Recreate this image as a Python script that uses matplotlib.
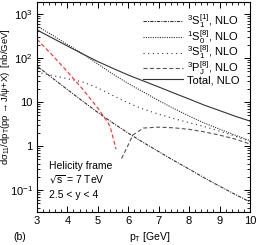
import numpy as np
import matplotlib
matplotlib.use('Agg')
import matplotlib.pyplot as plt
from matplotlib.ticker import FixedLocator, FixedFormatter, MultipleLocator, LogLocator, NullFormatter

plt.rcParams['font.family'] = ['Liberation Sans', 'DejaVu Sans']
plt.rcParams['mathtext.default'] = 'regular'

# values (nb/GeV)
pt = [3, 3.5, 4, 4.5, 5, 5.5, 6, 6.5, 7, 7.5, 8, 8.5, 9, 9.5, 10]
s1_singlet = [66, 35.4, 19.2, 10.5, 5.8, 3.33, 1.97, 1.2, 0.75, 0.47, 0.30, 0.19, 0.123, 0.081, 0.054]
s0_octet = [534, 333, 203, 124, 73, 43, 26.3, 16.9, 10.8, 7.1, 4.8, 3.33, 2.43, 1.78, 1.33]
s1_octet = [48, 40, 34, 28.5, 21, 14, 9.5, 6.9, 5.3, 4.2, 3.4, 2.77, 2.19, 1.69, 1.27]
total = [433, 285, 187, 124, 83, 58, 41, 30, 22, 16, 11.7, 8.5, 6.4, 4.8, 3.7]

# 3PJ octet: negative part (drawn red, absolute value) and positive part
pt_pj_neg = [3, 3.5, 4, 4.5, 5, 5.25, 5.4, 5.6]
pj_neg = [266, 117, 49, 19.7, 7.3, 4.1, 2.85, 0.85]
pt_pj_pos = [5.78, 5.96, 6.15, 6.5, 7, 7.5, 8, 8.5, 9, 9.5, 10]
pj_pos = [0.52, 0.93, 1.78, 2.57, 2.69, 2.6, 2.4, 2.1, 1.78, 1.45, 1.12]

labels = ['$^3$S$_1^{[1]}$, NLO', '$^1$S$_0^{[8]}$, NLO', '$^3$S$_1^{[8]}$, NLO',
          '$^3$P$_J^{[8]}$, NLO', 'Total, NLO']

fig = plt.figure(figsize=(2.62, 2.45), dpi=100)
ax = fig.add_axes([0.141, 0.135, 0.813, 0.857])

lw = 0.8
ax.plot(pt, s1_singlet, color='#333333', lw=lw, dashes=(3, 1, 1, 1), label=labels[0])
ax.plot(pt, s0_octet, color='#333333', lw=lw, dashes=(1, 1.1), label=labels[1])
ax.plot(pt, s1_octet, color='#333333', lw=lw, dashes=(1, 3.2), label=labels[2])
ax.plot(pt_pj_pos, pj_pos, color='#555555', lw=lw, dashes=(3.6, 2.2), label=labels[3])
ax.plot(pt, total, color='#333333', lw=lw, label=labels[4])
ax.plot(pt_pj_neg, pj_neg, color='#ff2a2a', lw=lw, dashes=(3.6, 2.2))

ax.set_yscale('log')
ax.set_xlim(3, 10)
ax.set_ylim(0.032, 1870)

ax.xaxis.set_major_locator(MultipleLocator(1))
ax.xaxis.set_minor_locator(MultipleLocator(0.2))
ax.yaxis.set_major_locator(FixedLocator([0.1, 1, 10, 100, 1000]))
ax.yaxis.set_major_formatter(FixedFormatter(['$10^{-1}$', '1', '10', '$10^{2}$', '$10^{3}$']))
ax.yaxis.set_minor_locator(LogLocator(base=10, subs=np.arange(2, 10)))
ax.yaxis.set_minor_formatter(NullFormatter())
ax.tick_params(which='both', direction='in', top=True, right=True, labelsize=8, pad=3)
ax.tick_params(which='major', length=4, width=0.7)
ax.tick_params(which='minor', length=2, width=0.6)
for sp in ax.spines.values():
    sp.set_linewidth(0.8)

ax.set_xlabel('p$_T$ [GeV]', fontsize=7.5)
ax.xaxis.set_label_coords(0.53, -0.085)
ax.set_ylabel(r'd$\sigma_{11}$/dp$_T$(pp$\rightarrow$J/$\psi$+X)  [nb/GeV]', fontsize=6.8)
ax.yaxis.set_label_coords(-0.115, 0.55)

ax.legend(loc='upper right', frameon=False, fontsize=8, handlelength=3.6,
          labelspacing=-0.2, handletextpad=0.4, borderaxespad=0.5)

ax.text(0.055, 0.205, 'Helicity frame', transform=ax.transAxes, fontsize=7.5)
ax.text(0.055, 0.135, r'$\sqrt{s}$ = 7 TeV', transform=ax.transAxes, fontsize=7.5)
ax.text(0.055, 0.065, '2.5 < y < 4', transform=ax.transAxes, fontsize=7.5)
fig.text(0.05, 0.02, '(b)', fontsize=7.5)

fig.savefig('out.png', dpi=100)
